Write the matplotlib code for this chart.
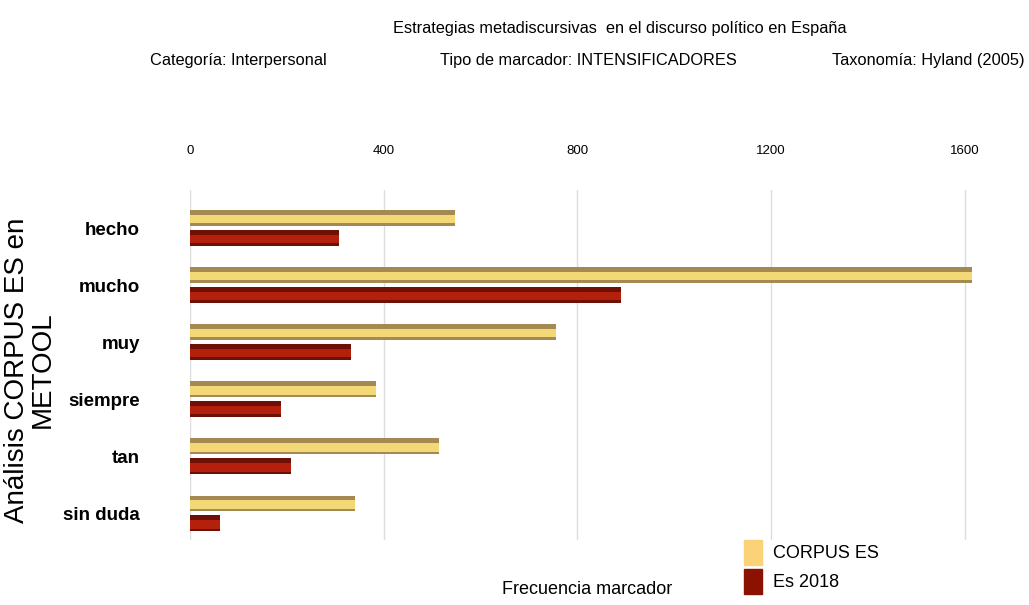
import matplotlib
matplotlib.use('Agg')
import matplotlib.pyplot as plt
import numpy as np

# data
categories = ['hecho', 'mucho', 'muy', 'siempre', 'tan', 'sin duda']
corpus_es = [548, 1615, 755, 385, 515, 340]
es_2018 = [308, 890, 333, 188, 208, 62]
xticks = [0, 400, 800, 1200, 1600]

plt.rcParams['font.family'] = ['Liberation Sans', 'DejaVu Sans']

gold = '#f3d877'
gold_dark = '#a48a52'
red = '#b3200c'
red_dark = '#6e1006'


def main():
    fig = plt.figure(figsize=(10.29, 6.05), dpi=100)
    ax = fig.add_axes([190 / 1029, 1 - 540 / 605, (1023 - 190) / 1029, 350 / 605])

    y = np.arange(len(categories))
    h = 0.27
    off = 0.175

    # bars: darker body + lighter stripe, rough 3d look
    ax.barh(y - off, corpus_es, height=h, color=gold_dark, zorder=3)
    ax.barh(y - off + 0.02, corpus_es, height=h * 0.55, color=gold, zorder=4)
    ax.barh(y + off, es_2018, height=h, color=red_dark, zorder=3)
    ax.barh(y + off + 0.02, es_2018, height=h * 0.55, color=red, zorder=4)

    ax.set_xlim(0, 1720)
    ax.set_ylim(5.47, -0.667)

    ax.xaxis.tick_top()
    ax.set_xticks(xticks)
    ax.set_xticklabels([str(v) for v in xticks], fontsize=9.5)
    ax.tick_params(axis='x', length=0, pad=24)

    ax.set_yticks(y)
    ax.set_yticklabels(categories, fontsize=13.5, fontweight='bold')
    ax.tick_params(axis='y', length=0, pad=36)

    ax.grid(axis='x', color='#dddddd', linewidth=1, zorder=0)
    for s in ax.spines.values():
        s.set_visible(False)

    # titles
    fig.text(620 / 1029, 1 - 28 / 605, 'Estrategias metadiscursivas  en el discurso político en España',
             ha='center', va='center', fontsize=11.8)
    fig.text(238 / 1029, 1 - 60 / 605, 'Categoría: Interpersonal', ha='center', va='center', fontsize=11.8)
    fig.text(588 / 1029, 1 - 60 / 605, 'Tipo de marcador: INTENSIFICADORES', ha='center', va='center', fontsize=11.8)
    fig.text(1025 / 1029, 1 - 60 / 605, 'Taxonomía: Hyland (2005)', ha='right', va='center', fontsize=11.8)

    fig.text(30 / 1029, 1 - 370 / 605, 'Análisis CORPUS ES en\nMETOOL', rotation=90,
             ha='center', va='center', fontsize=20, linespacing=0.95)
    fig.text(587 / 1029, 1 - 590 / 605, 'Frecuencia marcador', ha='center', va='center', fontsize=13)

    # legend
    fig.legend(handles=[plt.Rectangle((0, 0), 1, 1, color='#fbd277'),
                        plt.Rectangle((0, 0), 1, 1, color='#8b1100')],
               labels=['CORPUS ES', 'Es 2018'], loc='center left',
               bbox_to_anchor=(735 / 1029, 1 - 567 / 605), frameon=False,
               fontsize=13, handlelength=1.0, handleheight=1.8,
               handletextpad=0.6, labelspacing=0.2, borderpad=0)

    fig.savefig('out.png', dpi=100)


if __name__ == '__main__':
    main()
